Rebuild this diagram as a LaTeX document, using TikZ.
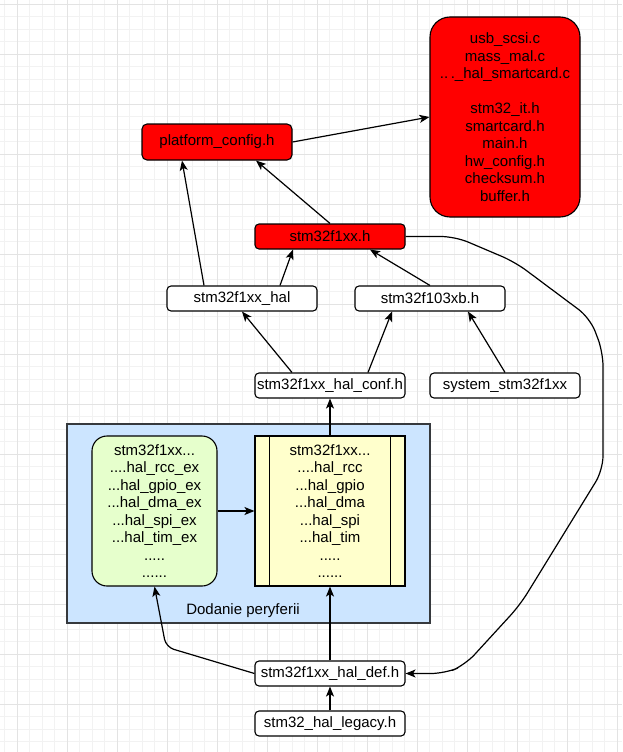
\documentclass[tikz,border=0pt]{standalone}
\usepackage{fontspec}
\setmainfont{Liberation Sans}
\usepackage{tikz}
\usetikzlibrary{arrows.meta}
\definecolor{hotred}{HTML}{FF0000}
\definecolor{periblue}{HTML}{CCE5FF}
\definecolor{exgreen}{HTML}{E6FFCC}
\definecolor{drvyellow}{HTML}{FFFFCC}
\definecolor{frame}{HTML}{36393D}
\definecolor{gridminor}{HTML}{F2F2F2}
\definecolor{gridmajor}{HTML}{E3E3E3}

\begin{document}
\begin{tikzpicture}[x=1pt,y=-1pt,every node/.style={font=\fontsize{15}{17.5}\selectfont,align=center,inner sep=0pt},file/.style={draw=black,line width=1.1pt,rounded corners=4pt,fill=white,minimum width=150pt,minimum height=25pt},hot/.style={file,fill=hotred},arrow/.style={-{Stealth[length=10pt,width=8pt,inset=2.5pt]},line width=1.2pt,black}]
% background grid
\useasboundingbox (0,0) rectangle (622,752);
\fill[white] (0,0) rectangle (622,752);
\foreach \g in {4.8,17.3,...,622} \draw[gridminor,line width=0.8pt] (\g,0) -- (\g,752);
\foreach \g in {4.3,16.8,...,752} \draw[gridminor,line width=0.8pt] (0,\g) -- (622,\g);
\foreach \g in {17.3,67.3,...,622} \draw[gridmajor,line width=0.9pt] (\g,0) -- (\g,752);
\foreach \g in {4.3,54.3,...,752} \draw[gridmajor,line width=0.9pt] (0,\g) -- (622,\g);

% periphery group
\node[draw=frame,line width=1.1pt,fill=periblue,minimum width=363pt,minimum height=199pt] (per) at (248.5,523.5) {};
\node (perlabel) at (243,611) {Dodanie peryferii};
\node[draw=black,line width=1.1pt,fill=exgreen,rounded corners=15pt,minimum width=125pt,minimum height=150pt] (ex) at (154.5,511) {stm32f1xx...\\....hal\_rcc\_ex\\...hal\_gpio\_ex\\...hal\_dma\_ex\\...hal\_spi\_ex\\...hal\_tim\_ex\\.....\\......};
\node[draw=black,line width=1.1pt,fill=drvyellow,minimum width=150pt,minimum height=150pt] (drv) at (330,511) {stm32f1xx...\\....hal\_rcc\\...hal\_gpio\\...hal\_dma\\...hal\_spi\\...hal\_tim\\.....\\......};
\draw[line width=1.1pt] ([xshift=15pt]drv.north west) -- ([xshift=15pt]drv.south west);
\draw[line width=1.1pt] ([xshift=-15pt]drv.north east) -- ([xshift=-15pt]drv.south east);

% headers
\node[hot,rounded corners=20pt,minimum height=200pt] (big) at (505,117) {usb\_scsi.c\\mass\_mal.c\\..\,.\_hal\_smartcard.c\\[17.5pt]stm32\_it.h\\smartcard.h\\main.h\\hw\_config.h\\checksum.h\\buffer.h};
\node[hot,rounded corners=5pt,minimum height=36pt] (pc) at (217,142) {platform\_config.h};
\node[hot] (fx) at (330,236.5) {stm32f1xx.h};
\node[file] (hal) at (242,298.5) {stm32f1xx\_hal};
\node[file] (xb) at (430,298.5) {stm32f103xb.h};
\node[file] (conf) at (330,385.5) {stm32f1xx\_hal\_conf.h};
\node[file] (sys) at (505,385.5) {system\_stm32f1xx};
\node[file] (def) at (330,673.5) {stm32f1xx\_hal\_def.h};
\node[file] (leg) at (330,723.5) {stm32\_hal\_legacy.h};

\draw[arrow] (pc.east) -- (big.west);
\draw[arrow] ([xshift=-38pt]hal.north) -- ([xshift=-35pt]pc.south);
\draw[arrow] (fx.north) -- ([xshift=39pt]pc.south);
\draw[arrow] ([xshift=38pt]hal.north) -- ([xshift=-37pt]fx.south);
\draw[arrow] (xb.north) -- ([xshift=40pt]fx.south);
\draw[arrow] ([xshift=-38pt]conf.north) -- (hal.south);
\draw[arrow] ([xshift=38pt]conf.north) -- ([xshift=-38pt]xb.south);
\draw[arrow] (sys.north) -- ([xshift=38pt]xb.south);
\draw[arrow] (drv.north) -- (conf.south);
\draw[arrow] (ex.east) -- (drv.west);
\draw[arrow] (def.north) -- (drv.south);
\draw[arrow] (leg.north) -- (def.south);
\draw[arrow,rounded corners=8pt] (def.west) -- (166,647) -- (ex.south);
\draw[arrow,rounded corners=14pt] (fx.east) -- (455,236.5) -- (515,262) -- (590,318) -- (603,352) -- (603,470) -- (520,605) -- (465,665) -- (445,673.5) -- (def.east);
\end{tikzpicture}
\end{document}
